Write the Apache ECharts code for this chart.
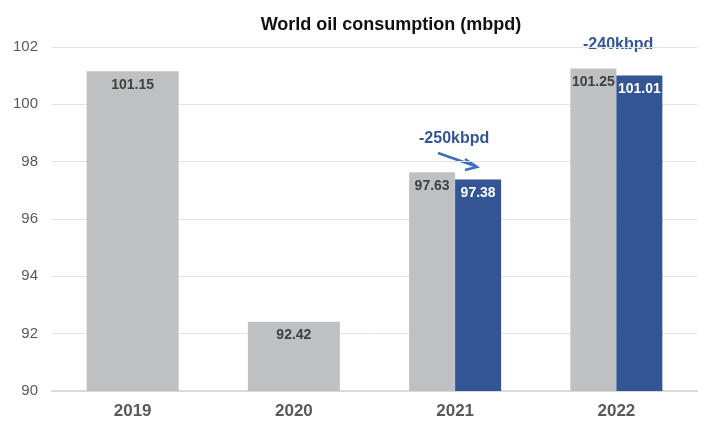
<!DOCTYPE html>
<html>
<head>
<meta charset="utf-8">
<script src="https://cdn.jsdelivr.net/npm/echarts@6/dist/echarts.min.js"></script>
<style>
  html, body { margin: 0; padding: 0; background: #fff; }
  #chart { width: 717px; height: 427px; }
</style>
</head>
<body>
<div id="chart"></div>
<script>
const years = ['2019', '2020', '2021', '2022'];
// actual figures for past years (single wide bar)
const actual = [101.15, 92.42, null, null];
// previous forecast vs revised forecast
const prevForecast = [null, null, 97.63, 101.25];
const newForecast = [null, null, 97.38, 101.01];
const yTicks = { min: 90, max: 102, interval: 2 };

const GRAY = '#bfc0c2';
const BLUE = '#335593';
const TXT = '#595959';
const FONT = 'Liberation Sans, Arial, sans-serif';

const chart = echarts.init(document.getElementById('chart'));

const grayLabel = {
  show: true, position: 'insideTop', distance: 7,
  color: '#404040', fontWeight: 'bold', fontSize: 14, fontFamily: FONT
};

chart.setOption({
  animation: false,
  title: {
    text: 'World oil consumption (mbpd)',
    left: 386, textAlign: 'center', top: 11,
    textStyle: { fontSize: 18, fontWeight: 'bold', color: '#111', fontFamily: FONT }
  },
  grid: { left: 52, right: 20, top: 47, bottom: 36 },
  xAxis: [
    {
      type: 'category', data: years,
      axisLine: { lineStyle: { color: '#d9d9d9', width: 2 } },
      axisTick: { show: false },
      axisLabel: { color: TXT, fontSize: 17, fontWeight: 'bold', margin: 12, fontFamily: FONT }
    },
    { type: 'category', data: years, show: false }
  ],
  yAxis: {
    type: 'value', min: yTicks.min, max: yTicks.max, interval: yTicks.interval,
    axisLabel: { color: TXT, fontSize: 15, margin: 14, fontFamily: FONT },
    splitLine: { lineStyle: { color: '#e3e3e3' } },
    axisLine: { show: false }, axisTick: { show: false }
  },
  series: [
    {
      name: 'Actual', type: 'bar', xAxisIndex: 0, data: actual,
      barWidth: 92, itemStyle: { color: GRAY }, label: grayLabel
    },
    {
      name: 'Previous', type: 'bar', xAxisIndex: 1, data: prevForecast,
      barWidth: 46, barGap: '0%', itemStyle: { color: GRAY }, label: grayLabel
    },
    {
      name: 'Revised', type: 'bar', xAxisIndex: 1, data: newForecast,
      barWidth: 46, barGap: '0%', itemStyle: { color: BLUE },
      label: Object.assign({}, grayLabel, { color: '#fff' })
    }
  ],
  graphic: [
    {
      type: 'text', left: 419, top: 131,
      style: { text: '-250kbpd', fill: BLUE, font: 'bold 16px ' + FONT }
    },
    {
      type: 'text', left: 583, top: 37,
      style: { text: '-240kbpd', fill: BLUE, font: 'bold 16px ' + FONT }
    },
    {
      type: 'line',
      shape: { x1: 438, y1: 153, x2: 475, y2: 166 },
      style: { stroke: '#3f6dbd', lineWidth: 2.5 }
    },
    {
      type: 'polyline',
      shape: { points: [[465, 159], [477, 167], [465, 170]] },
      style: { stroke: '#3f6dbd', lineWidth: 2.5, fill: null }
    }
  ]
});
</script>
</body>
</html>
